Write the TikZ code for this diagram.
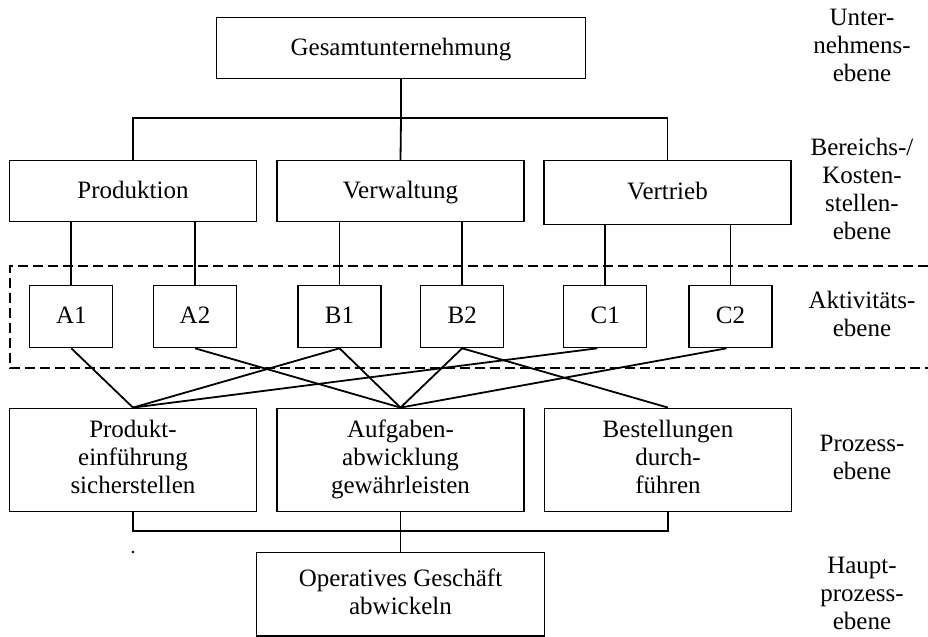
\documentclass[tikz,border=0pt]{standalone}
\usepackage{fontspec}
\setmainfont{Liberation Serif}
\usetikzlibrary{positioning}
\usetikzlibrary{calc}
\newcommand{\boxstrut}{\rule[-3pt]{0pt}{13pt}}

\begin{document}
\begin{tikzpicture}[
        x=0.5pt,y=-0.5pt,
        defaultS/.style={
            line width=0.6pt,
            fill=white,
            align=center,
            inner sep=0pt,
            font={\fontsize{12.5}{14}\selectfont},
            execute at begin node=\boxstrut,
            execute at end node=\boxstrut,
            draw=black
        },
        boxS/.style={
        	defaultS,
        	rectangle,
        	minimum width=123.5pt,
        	minimum height=30.5pt
        },
        actS/.style={
        	defaultS,
        	rectangle,
        	minimum width=41.5pt,
        	minimum height=31pt
        },
        procS/.style={
        	defaultS,
        	rectangle,
        	minimum width=123.5pt,
        	minimum height=51.5pt
        },
        labelS/.style={
            align=center,
            inner sep=0pt,
            execute at begin node=\boxstrut,
            execute at end node=\boxstrut,
            font={\fontsize{12.5}{14}\selectfont}
        },
        lineS/.style={line width=0.9pt},
        dashS/.style={line width=1pt,dash pattern=on 5pt off 2.5pt},
    ]
    \useasboundingbox (0,0) rectangle (928,637);

	% Aktivitaetsebene
	\draw[dashS] (928,265.7) -| (10,368) -- (928,368);

	\node[defaultS,minimum width=184.3pt,minimum height=30.7pt] (G) at (401,48) {Gesamtunternehmung};
	\node[boxS] (P) at (133,191.2) {Produktion};
	\node[boxS] (V) at (400.5,191.2) {Verwaltung};
	\node[boxS,minimum height=31.8pt] (VT) at (667.5,192.5) {Vertrieb};

	\node[actS] (A1) at (71.3,316.7) {A1};
	\node[actS] (A2) at (195,316.7) {A2};
	\node[actS] (B1) at (339.5,316.7) {B1};
	\node[actS] (B2) at (462.2,316.7) {B2};
	\node[actS] (C1) at (605.3,316.7) {C1};
	\node[actS] (C2) at (730.5,316.7) {C2};

	\node[procS] (PE) at (133,459.7) {Produkt-\\einführung\\sicherstellen};
	\node[procS] (AA) at (400.5,459.7) {Aufgaben-\\abwicklung\\gewährleisten};
	\node[procS] (BD) at (668,459.7) {Bestellungen\\durch-\\führen};
	\node[defaultS,minimum width=143.8pt,minimum height=41.8pt] (H) at (400.5,594.2) {Operatives Geschäft\\abwickeln};

	\node[labelS] (L1) at (862,48) {Unter-\\nehmens-\\ebene};
	\node[labelS] (L2) at (862,192) {Bereichs-/\\Kosten-\\stellen-\\ebene};
	\node[labelS] (L3) at (862,316.7) {Aktivitäts-\\ebene};
	\node[labelS] (L4) at (862,460) {Prozess-\\ebene};
	\node[labelS] (L5) at (862,596) {Haupt-\\prozess-\\ebene};

	\coordinate (J1) at (401,118.3);
	\coordinate (J2) at (400.5,531.3);

	\draw[lineS] (G.south) -- (J1);
	\draw[lineS] (P.north) |- (J1) -| (VT.north);
	\draw[lineS] (J1) -- (V.north);

	\draw[lineS] (A1.north) -- (A1 |- P.south);
	\draw[lineS] (A2.north) -- (A2 |- P.south);
	\draw[lineS] (B1.north) -- (B1 |- V.south);
	\draw[lineS] (B2.north) -- (B2 |- V.south);
	\draw[lineS] (C1.north) -- (C1 |- VT.south);
	\draw[lineS] (C2.north) -- (C2 |- VT.south);

	\draw[lineS] (A1.south) -- (PE.north);
	\draw[lineS] (A2.south) -- (AA.north);
	\draw[lineS] (B1.south) -- (PE.north);
	\draw[lineS] (B1.south) -- (AA.north);
	\draw[lineS] (B2.south) -- (AA.north);
	\draw[lineS] (B2.south) -- (BD.north);
	\draw[lineS] ([xshift=-4pt]C1.south) -- (PE.north);
	\draw[lineS] ([xshift=-2pt]C2.south) -- (AA.north);

	\draw[lineS] (PE.south) |- (J2) -| (BD.south);
	\draw[lineS] (AA.south) -- (H.north);

	\fill (133,552) circle (0.7pt);

    \end{tikzpicture}
\end{document}
